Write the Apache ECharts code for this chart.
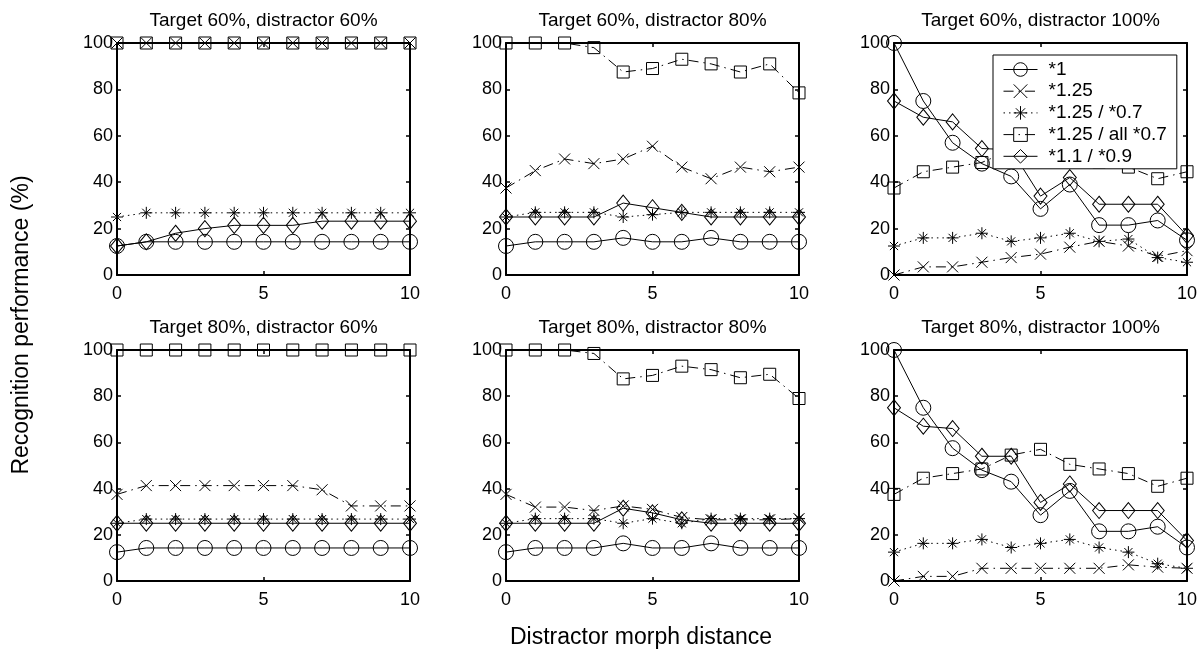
<!DOCTYPE html>
<html>
<head>
<meta charset="utf-8">
<title>Recognition performance vs. distractor morph distance</title>
<script src="https://cdn.jsdelivr.net/npm/echarts@6/dist/echarts.min.js"></script>
<style>
  html, body { margin: 0; padding: 0; background: #fff; }
  #chart { width: 1202px; height: 650px; }
</style>
</head>
<body>
<div id="chart"></div>
<script>
// Distractor morph distance (x values shared by every panel)
const distances = [0, 1, 2, 3, 4, 5, 6, 7, 8, 9, 10];

// Axis ticks
const xTicks = [0, 5, 10];
const yTicks = [0, 20, 40, 60, 80, 100];

// Morph scaling conditions (legend entries)
const seriesNames = ['*1', '*1.25', '*1.25 / *0.7', '*1.25 / all *0.7', '*1.1 / *0.9'];

const panelTitles = [
  'Target 60%, distractor 60%',
  'Target 60%, distractor 80%',
  'Target 60%, distractor 100%',
  'Target 80%, distractor 60%',
  'Target 80%, distractor 80%',
  'Target 80%, distractor 100%'
];

// Recognition performance (%) — target 60%, distractor 60%
const t60d60_s1      = [12.5, 14.3, 14.3, 14.3, 14.3, 14.3, 14.3, 14.3, 14.3, 14.3, 14.3];
const t60d60_s125    = [100, 100, 100, 100, 100, 100, 100, 100, 100, 100, 100];
const t60d60_s125_07 = [25, 26.8, 26.8, 26.8, 26.8, 26.8, 26.8, 26.8, 26.8, 26.8, 26.8];
const t60d60_all07   = [100, 100, 100, 100, 100, 100, 100, 100, 100, 100, 100];
const t60d60_s11_09  = [12.5, 14.3, 18, 20, 21.4, 21.4, 21.4, 23.2, 23.2, 23.2, 23.2];

// target 60%, distractor 80%
const t60d80_s1      = [12.5, 14.3, 14.3, 14.3, 16, 14.3, 14.3, 16, 14.3, 14.3, 14.3];
const t60d80_s125    = [37.5, 45, 50, 48, 50, 55.5, 46.5, 41.5, 46.5, 44.5, 46.5];
const t60d80_s125_07 = [25, 27, 27, 27, 25, 26, 27, 27, 27, 27, 27];
const t60d80_all07   = [100, 100, 100, 98, 87.5, 89, 93, 91, 87.5, 91, 78.5];
const t60d80_s11_09  = [25, 25, 25, 25, 31, 29, 27, 25, 25, 25, 25];

// target 60%, distractor 100%
const t60d100_s1      = [100, 75, 57, 48, 42.5, 28.5, 39, 21.5, 21.5, 23.5, 15];
const t60d100_s125    = [0, 3.5, 3.5, 5.5, 7.5, 9, 12, 14.5, 12.5, 8, 10.5];
const t60d100_s125_07 = [12.5, 16, 16, 18, 14.5, 16, 18, 14.5, 15.5, 7.5, 5.5];
const t60d100_all07   = [37.5, 44.5, 46.5, 48.5, 54, 57, 50.5, 48.5, 46.5, 41.5, 44.5];
const t60d100_s11_09  = [75, 68, 66, 54.5, 54, 34, 42, 30.5, 30.5, 30.5, 17];

// target 80%, distractor 60%
const t80d60_s1      = [12.5, 14.3, 14.3, 14.3, 14.3, 14.3, 14.3, 14.3, 14.3, 14.3, 14.3];
const t80d60_s125    = [37.5, 41.3, 41.3, 41.3, 41.3, 41.3, 41.3, 39.5, 32.5, 32.5, 32.5];
const t80d60_s125_07 = [25, 26.8, 26.8, 26.8, 26.8, 26.8, 26.8, 26.8, 26.8, 26.8, 26.8];
const t80d60_all07   = [100, 100, 100, 100, 100, 100, 100, 100, 100, 100, 100];
const t80d60_s11_09  = [25, 25, 25, 25, 25, 25, 25, 25, 25, 25, 25];

// target 80%, distractor 80%
const t80d80_s1      = [12.5, 14.3, 14.3, 14.3, 16.3, 14.3, 14.3, 16.3, 14.3, 14.3, 14.3];
const t80d80_s125    = [37.5, 32, 32, 30.5, 32.5, 31, 27.5, 26.5, 26.5, 26.5, 27];
const t80d80_s125_07 = [25, 27, 27, 27, 25, 27, 25, 27, 27, 27, 27];
const t80d80_all07   = [100, 100, 100, 98.5, 87.5, 89, 93, 91.5, 88, 89.5, 79];
const t80d80_s11_09  = [25, 25, 25, 25, 31.5, 29.5, 26.5, 25, 25, 25, 25];

// target 80%, distractor 100%
const t80d100_s1      = [100, 75, 57.5, 48, 43, 28.5, 39, 21.5, 21.5, 23.5, 14.5];
const t80d100_s125    = [0, 2, 2, 5.5, 5.5, 5.5, 5.5, 5.5, 7, 6, 5.5];
const t80d100_s125_07 = [12.5, 16.3, 16.3, 18, 14.5, 16.3, 18, 14.5, 12.5, 7.5, 5.5];
const t80d100_all07   = [37.5, 44.5, 46.5, 48.5, 54.5, 57, 50.5, 48.5, 46.5, 41, 44.5];
const t80d100_s11_09  = [75, 67, 66, 54, 54, 34, 42, 30.5, 30.5, 30.5, 17.5];

const panels = [
  [t60d60_s1, t60d60_s125, t60d60_s125_07, t60d60_all07, t60d60_s11_09],
  [t60d80_s1, t60d80_s125, t60d80_s125_07, t60d80_all07, t60d80_s11_09],
  [t60d100_s1, t60d100_s125, t60d100_s125_07, t60d100_all07, t60d100_s11_09],
  [t80d60_s1, t80d60_s125, t80d60_s125_07, t80d60_all07, t80d60_s11_09],
  [t80d80_s1, t80d80_s125, t80d80_s125_07, t80d80_all07, t80d80_s11_09],
  [t80d100_s1, t80d100_s125, t80d100_s125_07, t80d100_all07, t80d100_s11_09]
];

// ---- styling ----
const FONT = '"Liberation Sans", Arial, Helvetica, sans-serif';
const DOTTED = [1.5, 4];
const DASHDOT = [10, 5, 1.5, 5];

// Marker/line style per condition: hollow markers, thin black lines
const seriesStyles = [
  { symbol: 'circle', size: 15, dash: 'solid' },
  { symbol: 'path://M0,0L10,10M10,0L0,10', size: 11, dash: DASHDOT },
  { symbol: 'path://M5,0L5,10M0,5L10,5M1.6,1.6L8.4,8.4M8.4,1.6L1.6,8.4', size: 12, dash: DOTTED },
  { symbol: 'rect', size: 12, dash: DASHDOT },
  { symbol: 'diamond', size: [13, 16], dash: 'solid' }
];

// Subplot layout
const gridLefts = [117, 506, 894];
const gridTops = [43, 350];
const gridHeights = [232, 231];
const gridWidth = 293;
const titleTops = [11, 318];

const axisLineStyle = { color: '#000', width: 2 };
const tickStyle = { color: '#000', width: 1.5 };
const labelStyle = { color: '#000', fontSize: 18, fontFamily: FONT };

const grids = [], xAxes = [], yAxes = [], titles = [], series = [];

panels.forEach((panel, i) => {
  const row = Math.floor(i / 3), col = i % 3;
  grids.push({
    left: gridLefts[col], top: gridTops[row],
    width: gridWidth, height: gridHeights[row],
    containLabel: false
  });

  ['bottom', 'top'].forEach((pos) => {
    xAxes.push({
      type: 'value', gridIndex: i, position: pos,
      min: xTicks[0], max: xTicks[xTicks.length - 1], interval: xTicks[1] - xTicks[0],
      axisLine: { show: true, onZero: false, lineStyle: axisLineStyle },
      axisTick: { show: true, inside: true, length: 4, lineStyle: tickStyle },
      axisLabel: pos === 'bottom'
        ? Object.assign({ show: true, margin: 10 }, labelStyle)
        : { show: false },
      splitLine: { show: false }
    });
  });
  ['left', 'right'].forEach((pos) => {
    yAxes.push({
      type: 'value', gridIndex: i, position: pos,
      min: yTicks[0], max: yTicks[yTicks.length - 1], interval: yTicks[1] - yTicks[0],
      axisLine: { show: true, onZero: false, lineStyle: axisLineStyle },
      axisTick: { show: true, inside: true, length: 4, lineStyle: tickStyle },
      axisLabel: pos === 'left'
        ? Object.assign({ show: true, margin: 4 }, labelStyle)
        : { show: false },
      splitLine: { show: false }
    });
  });

  titles.push({
    text: panelTitles[i],
    left: gridLefts[col] + gridWidth / 2,
    top: titleTops[row],
    textAlign: 'center',
    padding: 0,
    textStyle: { fontSize: 19, fontWeight: 'normal', color: '#000', fontFamily: FONT }
  });

  panel.forEach((values, s) => {
    const st = seriesStyles[s];
    series.push({
      type: 'line',
      name: seriesNames[s],
      xAxisIndex: 2 * i,
      yAxisIndex: 2 * i,
      data: distances.map((d, k) => [d, values[k]]),
      symbol: st.symbol,
      symbolSize: st.size,
      showSymbol: true,
      clip: false,
      silent: true,
      animation: false,
      lineStyle: { color: '#000', width: 1, type: st.dash },
      itemStyle: { color: 'rgba(0,0,0,0)', borderColor: '#000', borderWidth: 1 },
      emphasis: { disabled: true }
    });
  });
});

const chart = echarts.init(document.getElementById('chart'), null, { renderer: 'canvas' });
chart.setOption({
  backgroundColor: '#fff',
  animation: false,
  title: titles,
  grid: grids,
  xAxis: xAxes,
  yAxis: yAxes,
  legend: {
    data: seriesNames,
    orient: 'vertical',
    left: 993,
    top: 55,
    padding: [5, 10, 3, 10],
    itemWidth: 34,
    itemHeight: 17,
    itemGap: 2.7,
    selectedMode: false,
    backgroundColor: '#fff',
    borderColor: '#000',
    borderWidth: 1,
    borderRadius: 0,
    itemStyle: { borderWidth: 1 },
    lineStyle: { width: 1 },
    textStyle: { color: '#000', fontSize: 19, lineHeight: 19, fontFamily: FONT, padding: [0, 0, 0, 6] }
  },
  graphic: [
    {
      type: 'text',
      x: 22, y: 325,
      rotation: Math.PI / 2,
      style: {
        text: 'Recognition performance (%)',
        fill: '#000', fontSize: 23, fontFamily: FONT,
        align: 'center', verticalAlign: 'middle'
      }
    },
    {
      type: 'text',
      x: 510, y: 638,
      style: {
        text: 'Distractor morph distance',
        fill: '#000', fontSize: 23, fontFamily: FONT,
        align: 'left', verticalAlign: 'middle'
      }
    }
  ],
  series: series
});
</script>
</body>
</html>
